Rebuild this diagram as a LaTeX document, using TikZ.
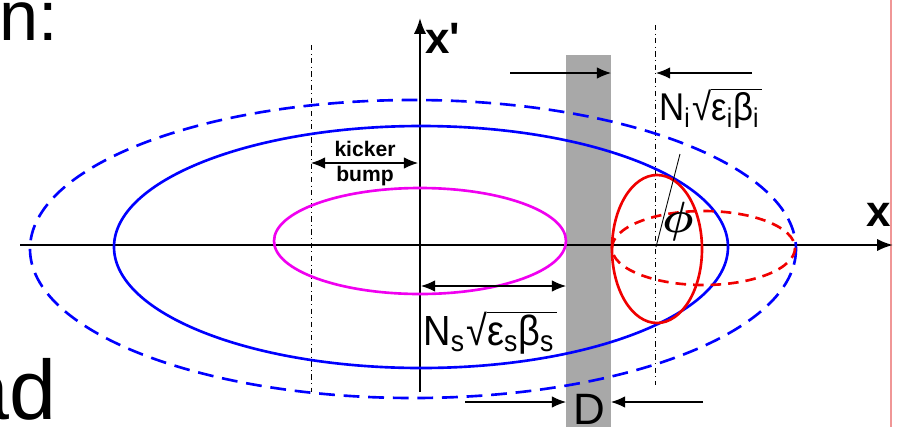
\documentclass[tikz,border=0pt]{standalone}
\usepackage{fontspec}
\setmainfont{Liberation Sans}
\usepackage{graphicx}
\usetikzlibrary{arrows.meta}
\definecolor{septumgray}{RGB}{168,168,168}
\definecolor{slideline}{RGB}{240,150,150}
\definecolor{beamblue}{RGB}{0,0,255}
\definecolor{beammag}{RGB}{240,0,240}
\definecolor{beamred}{RGB}{240,0,0}
\newcommand{\emitt}[1]{\scalebox{0.9}[1]{N\textsubscript{#1}\kern1pt√$\overline{\hbox{ε\textsubscript{#1}β\textsubscript{#1}\kern2pt}}$}}
\tikzset{
  axis/.style={line width=1.2pt,-{Latex[length=9pt,width=7pt]}},
  dimline/.style={line width=0.6pt},
  dimtip/.style={-{Latex[length=8pt,width=6.5pt]}},
  centre/.style={line width=0.5pt,dash dot},
  orbit/.style={line width=1.5pt},
}
\begin{document}
\begin{tikzpicture}[x=0.02cm,y=-0.02cm]
	\useasboundingbox (0,0) rectangle (897,427);
	
	% slide text
	\node[anchor=base west,font=\fontsize{40}{40}\selectfont,inner sep=0] (slidetop) at (-1,40) {n:};
	\node[anchor=base east,font=\fontsize{48}{48}\selectfont,inner sep=0] (slidebot) at (57,419) {ad};
	\draw[slideline,line width=0.6pt] (891,0) -- (891,427);
	
	% septum
	\fill[septumgray] (566,55) rectangle (611,427);
	
	% axes
	\coordinate (xl) at (20,245);
	\coordinate (xr) at (893,245);
	\coordinate (yb) at (420,392);
	\coordinate (yt) at (420,18);
	\draw[axis] (xl) -- (xr);
	\draw[axis] (yb) -- (yt);
	\node[font=\fontsize{25}{25}\selectfont\bfseries] (xlab) at (879,215) {x};
	\node[font=\fontsize{25}{25}\selectfont\bfseries] (ylab) at (443,38) {x\textquotesingle};
	
	% bump centre and injected beam centre
	\coordinate (bt) at (311,45);
	\coordinate (bb) at (311,392);
	\coordinate (it) at (655,25);
	\coordinate (ib) at (655,385);
	\draw[centre] (bt) -- (bb);
	\draw[centre] (it) -- (ib);
	
	% stored beam, acceptance, injected beam
	\draw[orbit,beamblue,dashed,dash pattern=on 9pt off 5pt] (413,249) ellipse [x radius=383, y radius=149];
	\draw[orbit,beamblue] (421,247) ellipse [x radius=307, y radius=121];
	\draw[orbit,beammag] (420,241) ellipse [x radius=146, y radius=53];
	\draw[orbit,beamred] (657,249) ellipse [x radius=45, y radius=74];
	\draw[orbit,beamred,dashed,dash pattern=on 6pt off 4pt] (703.5,248) ellipse [x radius=91.5, y radius=37];
	
	% phase angle
	\coordinate (ph0) at (656,247);
	\coordinate (ph1) at (680,154);
	\draw[line width=0.5pt] (ph0) -- (ph1);
	\node[font=\fontsize{23}{23}\selectfont\boldmath] (phi) at (678,222) {$\phi$};
	
	% kicker bump
	\coordinate (k1) at (311,163);
	\coordinate (k2) at (418,163);
	\draw[dimline,{Latex[length=8pt,width=6.5pt]}-{Latex[length=8pt,width=6.5pt]}] (k1) -- (k2);
	\node[font=\fontsize{12}{12}\selectfont\bfseries] (kick) at (365,149) {kicker};
	\node[font=\fontsize{12}{12}\selectfont\bfseries] (bump) at (365,176) {bump};
	
	% stored beam size
	\coordinate (s1) at (421,286);
	\coordinate (s2) at (566,286);
	\draw[dimline,{Latex[length=8pt,width=6.5pt]}-{Latex[length=8pt,width=6.5pt]}] (s1) -- (s2);
	\node[anchor=base west,inner sep=0,font=\fontsize{24}{24}\selectfont] (nsl) at (423,345) {\emitt{s}};
	
	% injected beam size
	\coordinate (i1) at (510,73);
	\coordinate (i2) at (611,73);
	\coordinate (i3) at (752,73);
	\coordinate (i4) at (656,73);
	\draw[dimline,dimtip] (i1) -- (i2);
	\draw[dimline,dimtip] (i3) -- (i4);
	\node[anchor=base west,inner sep=0,font=\fontsize{22}{22}\selectfont] (nil) at (659,120) {\emitt{i}};
	
	% septum thickness
	\coordinate (d1) at (465,402);
	\coordinate (d2) at (566,402);
	\coordinate (d3) at (703,402);
	\coordinate (d4) at (611,402);
	\draw[dimline,dimtip] (d1) -- (d2);
	\draw[dimline,dimtip] (d3) -- (d4);
	\node[anchor=base,inner sep=0,font=\fontsize{25}{25}\selectfont] (dlab) at (589,424) {D};
\end{tikzpicture}
\end{document}
